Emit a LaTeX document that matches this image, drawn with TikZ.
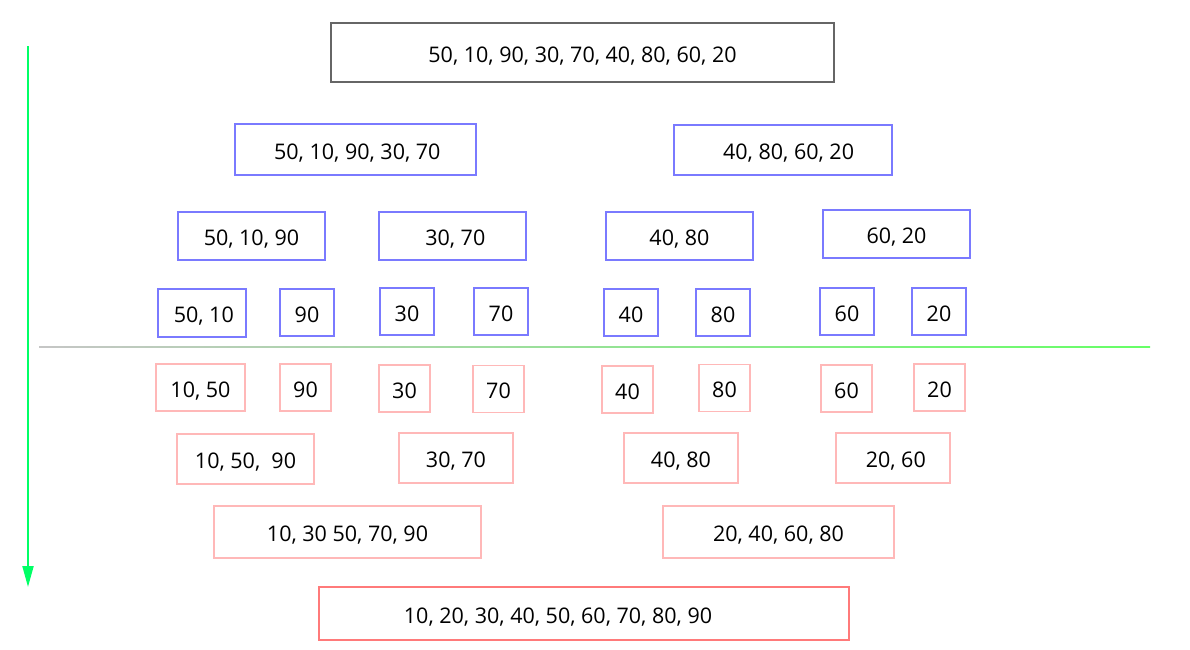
\documentclass[tikz,border=0pt]{standalone}
\usepackage{fontspec}
\setmainfont{Open Sans}
\definecolor{splitblue}{HTML}{7A7AFF}
\definecolor{mergepink}{HTML}{FFB8B8}
\definecolor{mergered}{HTML}{FF7A7A}
\definecolor{topgray}{HTML}{666666}
\definecolor{arrowgreen}{HTML}{00FF66}
\definecolor{linegreen}{HTML}{66FF66}
\usetikzlibrary{arrows.meta, positioning}

\begin{document}
\begin{tikzpicture}[x=1pt, y=-1pt,
    numbox/.style={draw, line width=1.2pt, inner sep=0pt, align=center,
                   text height=19pt, text depth=0pt,
                   font=\fontsize{21.5}{25}\selectfont},
    splitbox/.style={numbox, draw=splitblue},
    mergebox/.style={numbox, draw=mergepink},
    sz/.style 2 args={minimum width=#1pt, minimum height=#2pt}]
  \useasboundingbox (0,0) rectangle (1190,649);

  % input
  \node[numbox, draw=topgray, sz={503}{59}] (input) at (582.5,52.5)
    {50, 10, 90, 30, 70, 40, 80, 60, 20};

  % divide
  \node[splitbox, sz={241}{51}] (sL) at (355.5,149.5) {\,50, 10, 90, 30, 70};
  \node[splitbox, sz={218}{50}] (sR) at (783,150) {\ \ 40, 80, 60, 20};
  \node[splitbox, sz={147}{48}] (sLL) at (251.5,236) {50, 10, 90};
  \node[splitbox, sz={147}{48}] (sLR) at (452.5,236) {\ 30, 70};
  \node[splitbox, sz={147}{48}] (sRL) at (679.5,236) {40, 80};
  \node[splitbox, sz={147}{48}] (sRR) at (896.5,234) {60, 20};
  \node[splitbox, sz={88}{48}] (s5010) at (202,313) {\,50, 10};
  \foreach \x/\y/\v in {307/312.5/90, 407/311.5/30, 501/311.5/70, 631/312.5/40,
                        723/312.5/80, 847/311.5/60, 939/311.5/20}
    \node[splitbox, sz={54}{47}] (s\v) at (\x,\y) {\v};

  % divider line
  \coordinate (divL) at (39,347);
  \coordinate (divR) at (1150,347);
  \shade[left color=gray!45, right color=linegreen]
    ([yshift=-0.6pt]divL) rectangle ([yshift=0.6pt]divR);

  % merge
  \node[mergebox, sz={89}{47}] (m1050) at (200.5,387.5) {10, 50};
  \foreach \x/\y/\v in {305.5/387.5/90, 404.5/388.5/30, 498.5/389/70, 627.5/389.5/40,
                        724.5/388/80, 846.5/388.5/60, 939.5/387.5/20}
    \node[mergebox, sz={51}{47}] (m\v) at (\x,\y) {\v};
  \node[mergebox, sz={137}{50}] (mLL) at (245.5,459) {10, 50,\ \ 90};
  \node[mergebox, sz={114}{50}] (mLR) at (456,458) {30, 70};
  \node[mergebox, sz={114}{50}] (mRL) at (681,458) {40, 80};
  \node[mergebox, sz={114}{50}] (mRR) at (893,458) {\ 20, 60};
  \node[mergebox, sz={267}{52}] (mL) at (347.5,532) {10, 30 50, 70, 90};
  \node[mergebox, sz={231}{52}] (mR) at (778.5,532) {20, 40, 60, 80};

  % output
  \node[numbox, draw=mergered, sz={530}{53}] (output) at (584,613.5)
    {10, 20, 30, 40, 50, 60, 70, 80, 90\hspace*{52pt}};

  % time arrow
  \coordinate (arrowtop) at (28,46);
  \coordinate (arrowend) at (28,587);
  \draw[arrowgreen, line width=2pt, -{Triangle[width=11pt, length=21pt]}]
    (arrowtop) -- (arrowend);
\end{tikzpicture}
\end{document}
